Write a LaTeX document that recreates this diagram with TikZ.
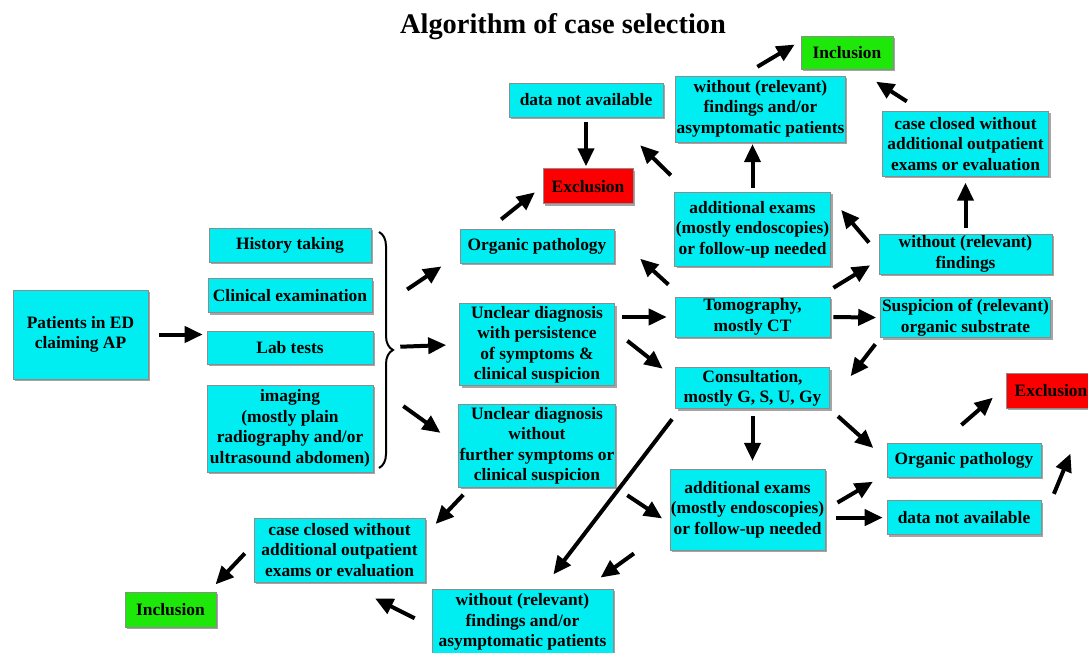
\documentclass[tikz,border=0pt]{standalone}
\usepackage{fontspec}
\setmainfont{Liberation Serif}
\usetikzlibrary{positioning, arrows.meta, shadows, decorations.pathreplacing}

\definecolor{boxcyan}{RGB}{0,238,242}
\definecolor{exred}{RGB}{250,0,0}
\definecolor{ingreen}{RGB}{30,232,10}

\begin{document}
\begin{tikzpicture}[x=1pt, y=-1pt]
% ----- Styles -----
\tikzset{
	box/.style={
		rectangle, draw=black!45, line width=0.6pt, fill=boxcyan,
		inner sep=1pt, align=center,
		font=\fontsize{17.4}{20.5}\selectfont\bfseries,
		drop shadow={shadow xshift=2pt, shadow yshift=-2pt, fill=black!70}
	},
	exclusion/.style={box, fill=exred},
	inclusion/.style={box, fill=ingreen},
	arrow/.style={line width=4pt, -{Triangle[length=18pt,width=16pt]}}
}
\useasboundingbox (0,0) rectangle (1088,653);

\node (title) [font=\fontsize{28.4}{30}\selectfont\bfseries, anchor=base] at (563,33) {Algorithm of case selection};

% ----- Nodes -----
\node (pat)  [box, minimum width=135pt, minimum height=89pt] at (80.5,334.5) {Patients in ED\\claiming AP};

\node (hist) [box, minimum width=162pt, minimum height=34pt] at (290,245) {History taking};
\node (clin) [box, minimum width=164pt, minimum height=34pt, below=16pt of hist] {Clinical examination};
\node (lab)  [box, minimum width=166pt, minimum height=33pt, below=18pt of clin] {Lab tests};
\node (img)  [box, minimum width=166pt, minimum height=87pt, below=20pt of lab] {imaging\\(mostly plain\\radiography and/or\\ultrasound abdomen)};

\node (org1) [box, minimum width=154pt, minimum height=34pt] at (537,246) {Organic pathology};
\node (unc1) [box, minimum width=155pt, minimum height=82pt, below=40pt of org1] {Unclear diagnosis\\with persistence\\of symptoms \&\\clinical suspicion};
\node (unc2) [box, minimum width=156pt, minimum height=83pt, below=18pt of unc1] {Unclear diagnosis\\without\\further symptoms or\\clinical suspicion};

\node (dna1) [box, minimum width=154pt, minimum height=34pt] at (586,100) {data not available};
\node (exc1) [exclusion, minimum width=90pt, minimum height=35pt, below=51pt of dna1, xshift=2pt] {Exclusion};

\node (tomo) [box, minimum width=155pt, minimum height=40pt] at (752.5,317) {Tomography,\\mostly CT};
\node (cons) [box, minimum width=154pt, minimum height=41pt, below=30pt of tomo] {Consultation,\\mostly G, S, U, Gy};
\node (add1) [box, minimum width=156pt, minimum height=74pt, above=30pt of tomo] {additional exams\\(mostly endoscopies)\\or follow-up needed};
\node (wof1) [box, minimum width=169pt, minimum height=66pt, above=50pt of add1, xshift=8pt] {without (relevant)\\findings and/or\\asymptomatic patients};
\node (inc1) [inclusion, minimum width=92pt, minimum height=33pt] at (847,52.5) {Inclusion};
\node (add2) [box, minimum width=154pt, minimum height=81pt, below=60pt of cons, xshift=-5pt] {additional exams\\(mostly endoscopies)\\or follow-up needed};

\node (wfr)  [box, minimum width=173pt, minimum height=40pt] at (965.5,254) {without (relevant)\\findings};
\node (ccr)  [box, minimum width=166pt, minimum height=65pt, above=57pt of wfr] {case closed without\\additional outpatient\\exams or evaluation};
\node (susp) [box, minimum width=170pt, minimum height=40pt, below=23pt of wfr] {Suspicion of (relevant)\\organic substrate};
\node (exc2) [exclusion, minimum width=90pt, minimum height=35pt] at (1051,390.5) {Exclusion};
\node (org2) [box, minimum width=154pt, minimum height=34pt] at (964,460) {Organic pathology};
\node (dna2) [box, minimum width=154pt, minimum height=34pt, below=23pt of org2] {data not available};

\node (ccl)  [box, minimum width=171pt, minimum height=64pt] at (339.5,550) {case closed without\\additional outpatient\\exams or evaluation};
\node (inc2) [inclusion, minimum width=91pt, minimum height=35pt] at (170.5,609.5) {Inclusion};
\node (wob)  [box, minimum width=181pt, minimum height=66pt] at (522.5,622) {without (relevant)\\findings and/or\\asymptomatic patients};

% brace round the four first exams
\coordinate (brT) at (379,232);
\coordinate (brB) at (379,468);
\draw[decorate, decoration={brace, amplitude=14pt}, line width=2pt] (brT) -- (brB);

% ----- Arrows -----
\draw[arrow, shorten <=11pt, shorten >=4pt] (pat.east) -- (pat.east -| lab.west);
\draw[arrow, shorten <=42pt, shorten >=22pt] (clin.south east) -- (org1.186);
\draw[arrow, shorten <=27pt, shorten >=13pt] (lab.east) -- (unc1.west);
\draw[arrow, shorten <=37pt, shorten >=22pt] (img.north east) -- (unc2.west);

\draw[arrow, shorten <=15pt, shorten >=10pt] (org1.160) -- (exc1.west);
\draw[arrow, shorten <=5pt, shorten >=2pt] (dna1.south) -- (dna1.south |- exc1.north);
\draw[arrow, shorten <=24pt, shorten >=40pt] (add1.150) -- (dna1.-34);
\draw[arrow, shorten <=4pt, shorten >=2pt] (add1.north) -- (add1.north |- wof1.south);
\draw[arrow, shorten <=17pt, shorten >=7pt] (wof1.118) -- (inc1.166);
\draw[arrow, shorten <=18pt, shorten >=23pt] (ccr.143) -- (inc1.-60);
\draw[arrow, shorten <=6pt, shorten >=6pt] (wfr.north) -- (ccr.south);
\draw[arrow, shorten <=15pt, shorten >=16pt] (wfr.west) -- (add1.22);

\draw[arrow, shorten <=17pt, shorten >=10pt] (tomo.17) -- (wfr.184);
\draw[arrow, shorten <=3pt, shorten >=4pt] (tomo.east) -- (susp.west);
\draw[arrow, shorten <=18pt, shorten >=35pt] (tomo.164) -- (org1.8);
\draw[arrow, shorten <=7pt, shorten >=8pt] (unc1.east |- tomo.west) -- (tomo.west);
\draw[arrow, shorten <=16pt, shorten >=16pt] (unc1.10) -- (cons.173);
\draw[arrow, shorten <=8pt, shorten >=34pt] (susp.south west) -- (cons.-11);

\draw[arrow, shorten <=7pt, shorten >=8pt] (cons.south) -- (cons.south |- add2.north);
\draw[arrow, shorten <=11pt, shorten >=18pt] (cons.south east) -- (org2.west);
\draw[arrow, shorten <=13pt, shorten >=18pt] (cons.196) -- (wob.59);
\draw[arrow, shorten <=14pt, shorten >=9pt] (unc2.south east) -- (add2.190);
\draw[arrow, shorten <=10pt, shorten >=15pt] (unc2.212) -- (ccl.10);

\draw[arrow, shorten <=14pt, shorten >=16pt] (add2.east) -- (org2.190);
\draw[arrow, shorten <=11pt, shorten >=4pt] (add2.east |- dna2.west) -- (dna2.west);
\draw[arrow, shorten <=33pt, shorten >=49pt] (dna2.-5) -- (exc2.-25);
\draw[arrow, shorten <=27pt, shorten >=17pt] (org2.143) -- (exc2.175);
\draw[arrow, shorten <=44pt, shorten >=19pt] (add2.193) -- (wob.28);
\draw[arrow, shorten <=19pt, shorten >=36pt] (wob.183) -- (ccl.-84);
\draw[arrow, shorten <=13pt, shorten >=10pt] (ccl.176) -- (inc2.25);
\end{tikzpicture}
\end{document}
